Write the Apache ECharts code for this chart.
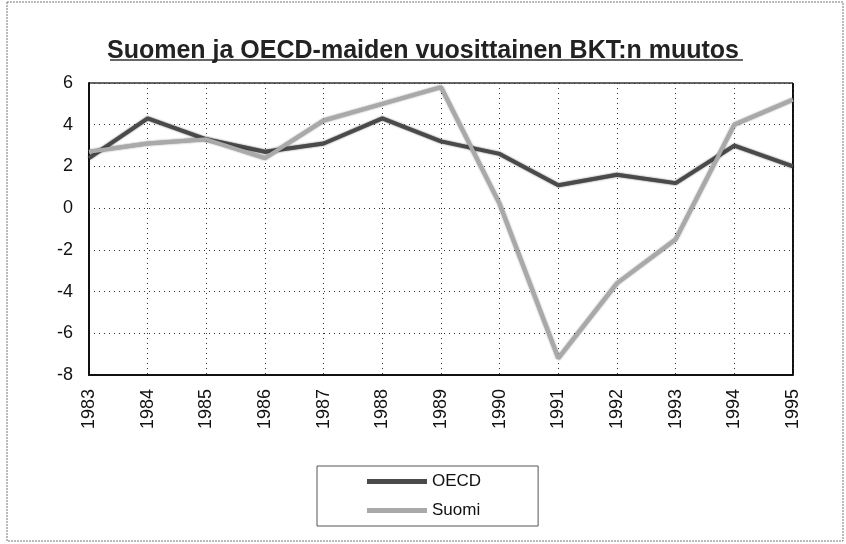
<!DOCTYPE html>
<html>
<head>
<meta charset="utf-8">
<title>Suomen ja OECD-maiden vuosittainen BKT:n muutos</title>
<script src="https://cdn.jsdelivr.net/npm/echarts@6/dist/echarts.min.js"></script>
<style>
  html, body { margin: 0; padding: 0; background: #fff; }
  #chart { width: 846px; height: 544px; }
</style>
</head>
<body>
<div id="chart"></div>
<script>
// vuodet x-akselille
var years = ['1983', '1984', '1985', '1986', '1987', '1988', '1989',
             '1990', '1991', '1992', '1993', '1994', '1995'];
// BKT:n muutos, %
var oecd = [2.4, 4.3, 3.3, 2.7, 3.1, 4.3, 3.2, 2.6, 1.1, 1.6, 1.2, 3.0, 2.0];
var suomi = [2.7, 3.1, 3.3, 2.4, 4.2, 5.0, 5.8, 0.2, -7.2, -3.6, -1.5, 4.0, 5.2];
var yTicks = { min: -8, max: 6, step: 2 };

var font = 'Liberation Sans, Arial, sans-serif';
var chart = echarts.init(document.getElementById('chart'));

chart.setOption({
    animation: false,
    backgroundColor: '#fff',
    title: {
        text: 'Suomen ja OECD-maiden vuosittainen BKT:n muutos',
        left: 'center',
        top: 34,
        textStyle: { fontFamily: font, fontSize: 25, fontWeight: 'bold', color: '#222' }
    },
    graphic: [
        // kehys koko kuvan ympäri
        { type: 'rect', shape: { x: 7, y: 2, width: 836, height: 539 },
          style: { fill: 'none', stroke: '#777', lineWidth: 1, lineDash: [2, 1] } },
        // otsikon alleviivaus
        { type: 'line', shape: { x1: 110, y1: 60, x2: 743, y2: 60 },
          style: { stroke: '#333', lineWidth: 1.5 } },
        // kuva-alueen reunat
        { type: 'line', shape: { x1: 89, y1: 83, x2: 793, y2: 83 },
          style: { stroke: '#333', lineWidth: 1.5 } },
        { type: 'line', shape: { x1: 793, y1: 83, x2: 793, y2: 375 },
          style: { stroke: '#111', lineWidth: 2 } }
    ],
    legend: {
        orient: 'vertical',
        left: 317,
        top: 466,
        padding: [7, 57, 7, 50],
        itemGap: 12,
        itemWidth: 60,
        itemHeight: 5,
        icon: 'rect',
        borderColor: '#555',
        borderWidth: 1,
        textStyle: { fontFamily: font, fontSize: 17, color: '#111' },
        data: ['OECD', 'Suomi']
    },
    grid: { left: 89, right: 53, top: 83, bottom: 169 },
    xAxis: {
        type: 'category',
        data: years,
        boundaryGap: false,
        axisLine: { onZero: false, lineStyle: { color: '#111', width: 2 } },
        axisTick: { show: false },
        axisLabel: { rotate: 90, fontFamily: font, fontSize: 18, color: '#111', margin: 14 },
        splitLine: { show: true, lineStyle: { color: '#333', type: [1, 4], width: 1 } }
    },
    yAxis: {
        type: 'value',
        min: yTicks.min,
        max: yTicks.max,
        interval: yTicks.step,
        axisLine: { show: true, lineStyle: { color: '#111', width: 2 } },
        axisTick: { show: false },
        axisLabel: { fontFamily: font, fontSize: 18, color: '#111', margin: 16 },
        splitLine: { show: true, lineStyle: { color: '#333', type: [1, 4], width: 1 } }
    },
    series: [
        {
            name: 'OECD',
            type: 'line',
            data: oecd,
            symbol: 'none',
            color: '#4a4a4a',
            lineStyle: { color: '#4a4a4a', width: 4, shadowColor: 'rgba(0,0,0,0.6)', shadowBlur: 2 },
            z: 3
        },
        {
            name: 'Suomi',
            type: 'line',
            data: suomi,
            symbol: 'none',
            color: '#a9a9a9',
            lineStyle: { color: '#a9a9a9', width: 4, shadowColor: 'rgba(0,0,0,0.5)', shadowBlur: 2 },
            z: 4
        }
    ]
});
</script>
</body>
</html>
